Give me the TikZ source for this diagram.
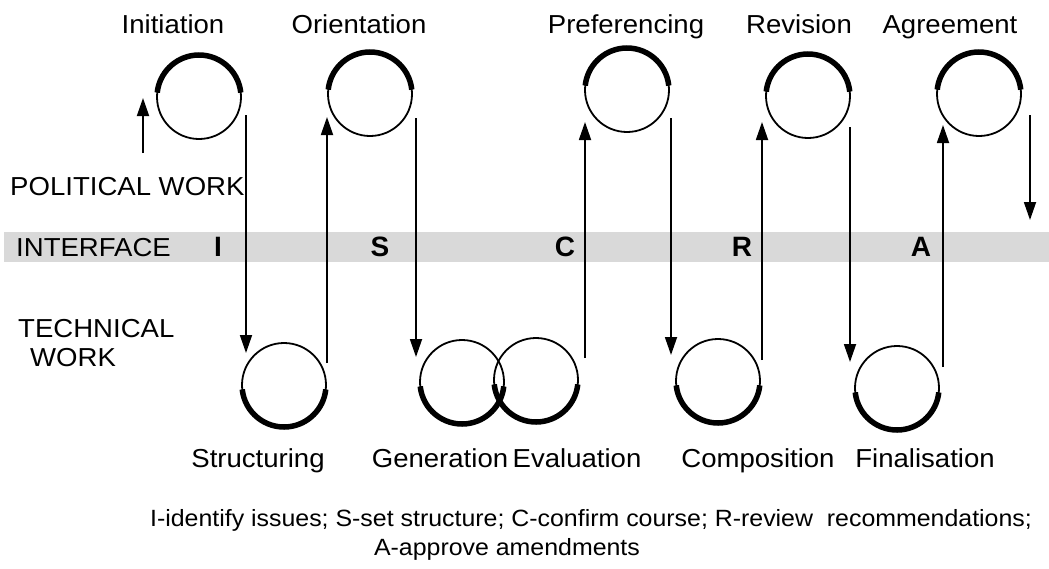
\documentclass[tikz,border=0pt]{standalone}
\usepackage{fontspec}
\setmainfont{Liberation Sans}
\usetikzlibrary{arrows.meta}
\newcommand{\widetext}[1]{\scalebox{1.06}[1]{#1}}
\begin{document}
\begin{tikzpicture}[x=1pt,y=-1pt,
  cyc/.style={circle, draw, line width=1.8pt, minimum size=84pt, inner sep=0pt, outer sep=0pt},
  hot/.style={line width=5.5pt},
  flow/.style={line width=1.8pt},
  arr/.style={flow, -{Triangle[length=18pt,width=12pt]}},
  lbl/.style={font=\fontsize{26}{30}\selectfont, inner sep=0pt, anchor=base},
  side/.style={font=\fontsize{26}{30}\selectfont, inner sep=0pt, anchor=base west},
  code/.style={font=\fontsize{28}{30}\selectfont\bfseries, inner sep=0pt, anchor=base},
  captxt/.style={font=\fontsize{23.5}{29}\selectfont, inner sep=0pt, anchor=base}
]
\useasboundingbox (0,0) rectangle (1049,568);
% interface band
\fill[black!15] (4,232) rectangle (1049,262);

% top circles
\node[cyc] (ini) at (199,97) {};
\node[cyc] (ori) at (370,94) {};
\node[cyc] (pre) at (627,90) {};
\node[cyc] (rev) at (808,96) {};
\node[cyc] (agr) at (979,94) {};
\foreach \c in {ini,ori,pre,rev,agr}
  \draw[hot] (\c.6) arc[start angle=6, end angle=174, radius=42pt];

% bottom circles
\node[cyc] (str) at (284,385) {};
\node[cyc] (gen) at (462,382) {};
\node[cyc] (eva) at (536,380) {};
\node[cyc] (com) at (718,381) {};
\node[cyc] (fin) at (897,388) {};
\foreach \c in {str,gen,eva,com,fin}
  \draw[hot] (\c.186) arc[start angle=186, end angle=354, radius=42pt];

% labels
\node[lbl] (lini) at (173,33) {\widetext{Initiation}};
\node[lbl] (lori) at (359,33) {\widetext{Orientation}};
\node[lbl] (lpre) at (626,33) {\widetext{Preferencing}};
\node[lbl] (lrev) at (799,33) {\widetext{Revision}};
\node[lbl] (lagr) at (950,33) {\widetext{Agreement}};
\node[lbl] (lstr) at (258,467) {\widetext{Structuring}};
\node[lbl] (lgen) at (440,467) {\widetext{Generation}};
\node[lbl] (leva) at (577,467) {\widetext{Evaluation}};
\node[lbl] (lcom) at (758,467) {\widetext{Composition}};
\node[lbl] (lfin) at (925,467) {\widetext{Finalisation}};

\node[side] (pol) at (10,195) {\widetext{POLITICAL WORK}};
\node[side] (itf) at (16,256) {\widetext{INTERFACE}};
\node[side] (tec) at (18,337) {\widetext{TECHNICAL}};
\node[side] (wrk) at (30,366) {\widetext{WORK}};

\node[code] (kI) at (218,256) {I};
\node[code] (kS) at (380,256) {S};
\node[code] (kC) at (565,256) {C};
\node[code] (kR) at (742,256) {R};
\node[code] (kA) at (921,256) {A};

\node[captxt] (cap1) at (591,526) {\widetext{I-identify issues; S-set structure; C-confirm course; R-review\ \ recommendations;}};
\node[captxt] (cap2) at (507,555) {\widetext{A-approve amendments}};

% connector end points
\coordinate (s0) at (143,153); \coordinate (e0) at (143,98);
\coordinate (s1) at (246,115); \coordinate (e1) at (246,353);
\coordinate (s2) at (327,363); \coordinate (e2) at (327,117);
\coordinate (s3) at (416,118); \coordinate (e3) at (416,357);
\coordinate (s4) at (585,358); \coordinate (e4) at (585,122);
\coordinate (s5) at (671,118); \coordinate (e5) at (671,355);
\coordinate (s6) at (762,360); \coordinate (e6) at (762,122);
\coordinate (s7) at (850,127); \coordinate (e7) at (850,362);
\coordinate (s8) at (943,367); \coordinate (e8) at (943,125);
\coordinate (s9) at (1030,115); \coordinate (e9) at (1030,220);
\foreach \i in {0,...,9}
  \draw[arr] (s\i) -- (e\i);
\end{tikzpicture}
\end{document}
